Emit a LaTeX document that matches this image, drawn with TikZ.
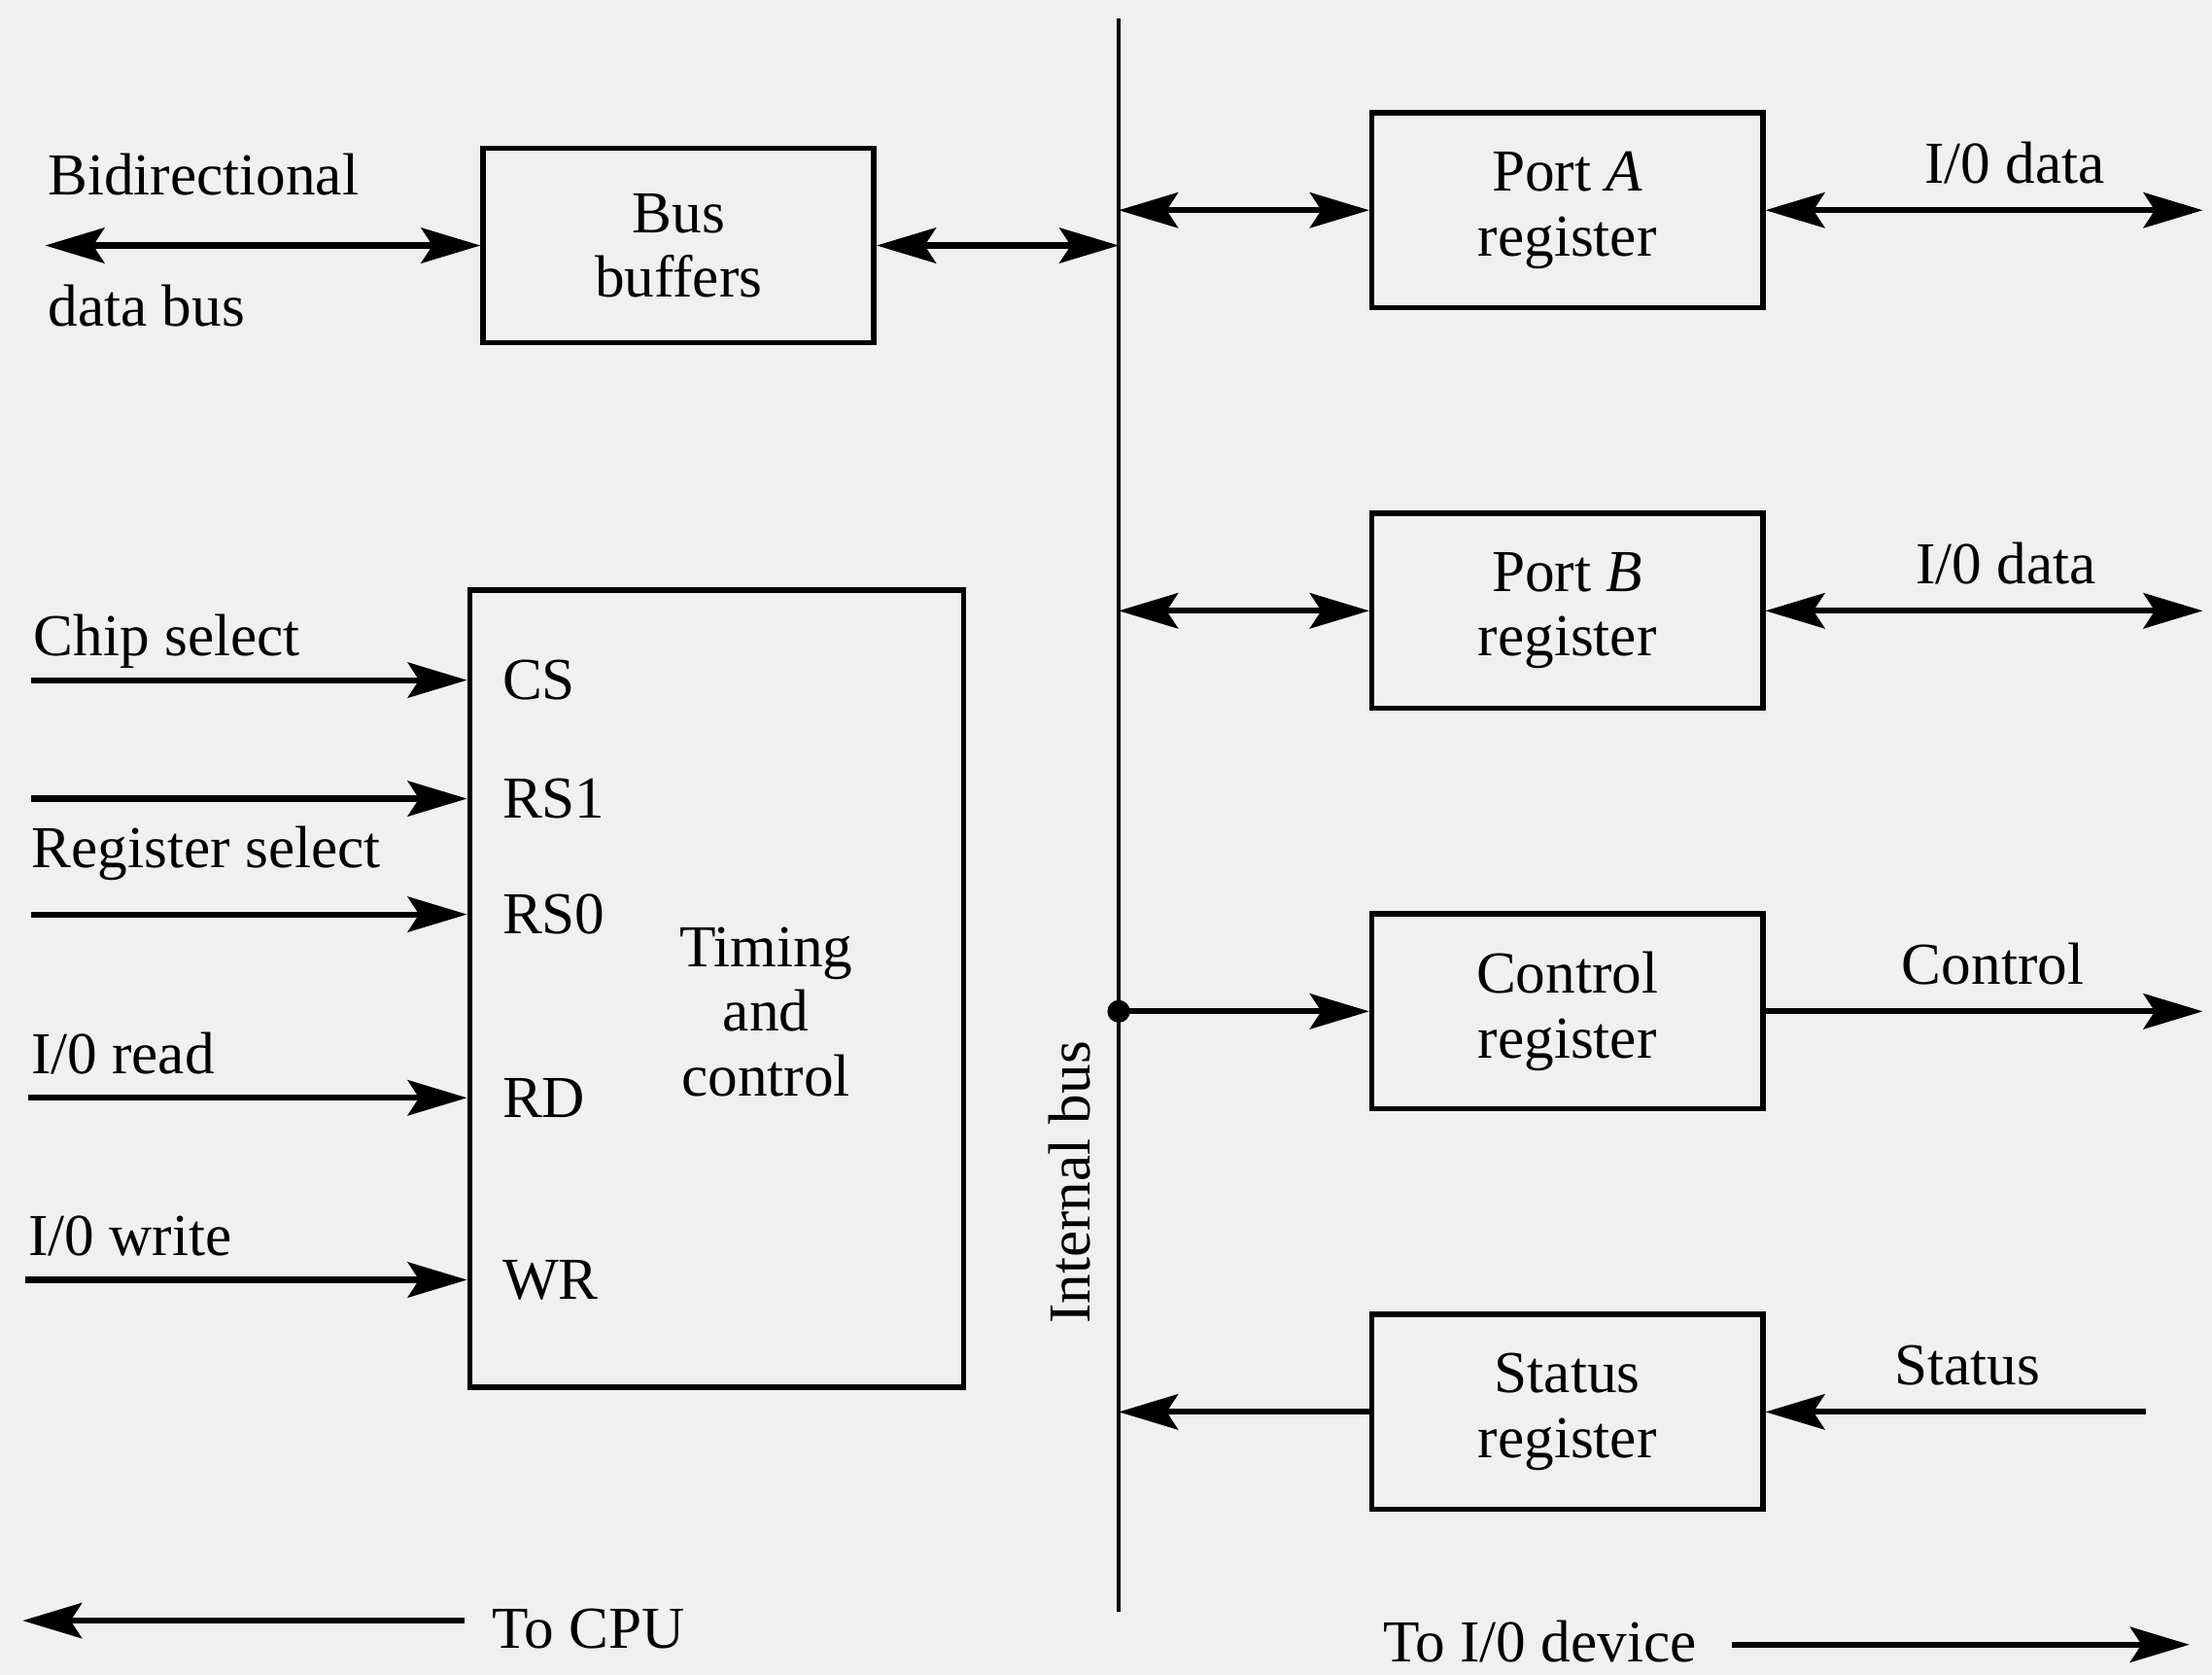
\documentclass[tikz,border=0pt]{standalone}
\usepackage{fontspec}
\setmainfont{Liberation Serif}
\usetikzlibrary{arrows.meta, positioning}

\begin{document}
\begin{tikzpicture}[
  node distance=14.2mm and 31mm,
  font=\fontsize{12}{13}\selectfont,
  >={Stealth[length=4.2mm, width=2.5mm, inset=0.8mm]},
  regbox/.style={rectangle, draw=black, line width=1.1pt, align=center,
                 minimum height=13.8mm, minimum width=27.7mm},
  pinlbl/.style={anchor=west, inner sep=0pt, xshift=2.3mm},
  inlbl/.style={anchor=base west, inner sep=0pt, yshift=1.7mm},
  outlbl/.style={anchor=base, inner sep=0pt, yshift=1.9mm},
  arrow/.style={->, line width=1.2pt},
  biarrow/.style={<->, line width=1.2pt}
]

\fill[black!6] (0,0) rectangle (15.68,11.87);
\useasboundingbox (0,0) rectangle (15.68,11.87);

% internal bus
\coordinate (bustop) at (7.93,11.74);
\coordinate (busbot) at (7.93,0.45);
\draw[line width=0.8pt] (bustop) -- (busbot);
\node[rotate=90, anchor=south, inner sep=5.5pt] (buslbl) at (7.93,3.49) {Internal bus};

% boxes
\node[regbox] (buf) at (4.81,10.13) {Bus\\buffers};
\node[regbox] (porta) at (11.11,10.38) {Port \textit{A}\\register};
\node[regbox, below=of porta] (portb) {Port \textit{B}\\register};
\node[regbox, below=of portb] (ctrl) {Control\\register};
\node[regbox, below=of ctrl] (stat) {Status\\register};
\node[regbox, minimum width=35mm, minimum height=56.5mm] (tc) at (5.08,4.865) {};
\node[align=center] (tctext) at (5.43,4.70) {Timing\\and\\control};

% CPU side
\coordinate (dbus) at (0.32,10.13);
\draw[biarrow] (dbus) -- node[pos=0, anchor=base west, inner sep=0pt, yshift=3.6mm] (bidir) {Bidirectional}
  node[pos=0, anchor=base west, inner sep=0pt, yshift=-5.7mm] (dbuslbl) {data bus} (buf.west);
\draw[biarrow] (buf.east) -- (buf.east -| bustop);

\coordinate (csin) at (0.22,7.05);
\coordinate (rs1in) at (0.22,6.21);
\coordinate (rs0in) at (0.22,5.39);
\coordinate (rdin) at (0.20,4.09);
\coordinate (wrin) at (0.18,2.80);

\draw[arrow] (csin) -- node[inlbl, pos=0] (cslbl) {Chip select} (csin -| tc.west) node[pinlbl] (cs) {CS};
\draw[arrow] (rs1in) -- (rs1in -| tc.west) node[pinlbl] (rs1) {RS1};
\node[anchor=base west, inner sep=0pt] (regsel) at (0.22,5.72) {Register select};
\draw[arrow] (rs0in) -- (rs0in -| tc.west) node[pinlbl] (rs0) {RS0};
\draw[arrow] (rdin) -- node[inlbl, pos=0] (rdlbl) {I/0 read} (rdin -| tc.west) node[pinlbl] (rd) {RD};
\draw[arrow] (wrin) -- node[inlbl, pos=0] (wrlbl) {I/0 write} (wrin -| tc.west) node[pinlbl] (wr) {WR};

% I/O side
\coordinate[right=of porta.east] (aio);
\coordinate[right=of portb.east] (bio);
\coordinate[right=31mm of ctrl.east] (ctrlout);
\coordinate[right=27mm of stat.east] (statin);

\draw[biarrow] (porta.west -| bustop) -- (porta.west);
\draw[biarrow] (porta.east) -- node[outlbl, pos=0.57] (adata) {I/0 data} (aio);
\draw[biarrow] (portb.west -| bustop) -- (portb.west);
\draw[biarrow] (portb.east) -- node[outlbl, pos=0.55] (bdata) {I/0 data} (bio);

\coordinate (tap) at (ctrl.west -| bustop);
\fill (tap) circle (0.8mm);
\draw[arrow] (tap) -- (ctrl.west);
\draw[arrow] (ctrl.east) -- node[outlbl, pos=0.52] (ctrllbl) {Control} (ctrlout);

\draw[arrow] (statin) -- node[outlbl, pos=0.47] (statlbl) {Status} (stat.east);
\draw[arrow] (stat.west) -- (stat.west -| bustop);

% bottom
\node[anchor=base west, outer sep=0.8mm] (tocpu) at (3.29,0.19) {To CPU};
\coordinate (cpuend) at (0.16,0.385);
\draw[arrow] (tocpu.west |- cpuend) -- (cpuend);

\node[anchor=base west, outer sep=1.3mm] (toio) at (9.56,0.09) {To I/0 device};
\coordinate (ioend) at (15.52,0.215);
\draw[arrow] (toio.east |- ioend) -- (ioend);

\end{tikzpicture}
\end{document}
